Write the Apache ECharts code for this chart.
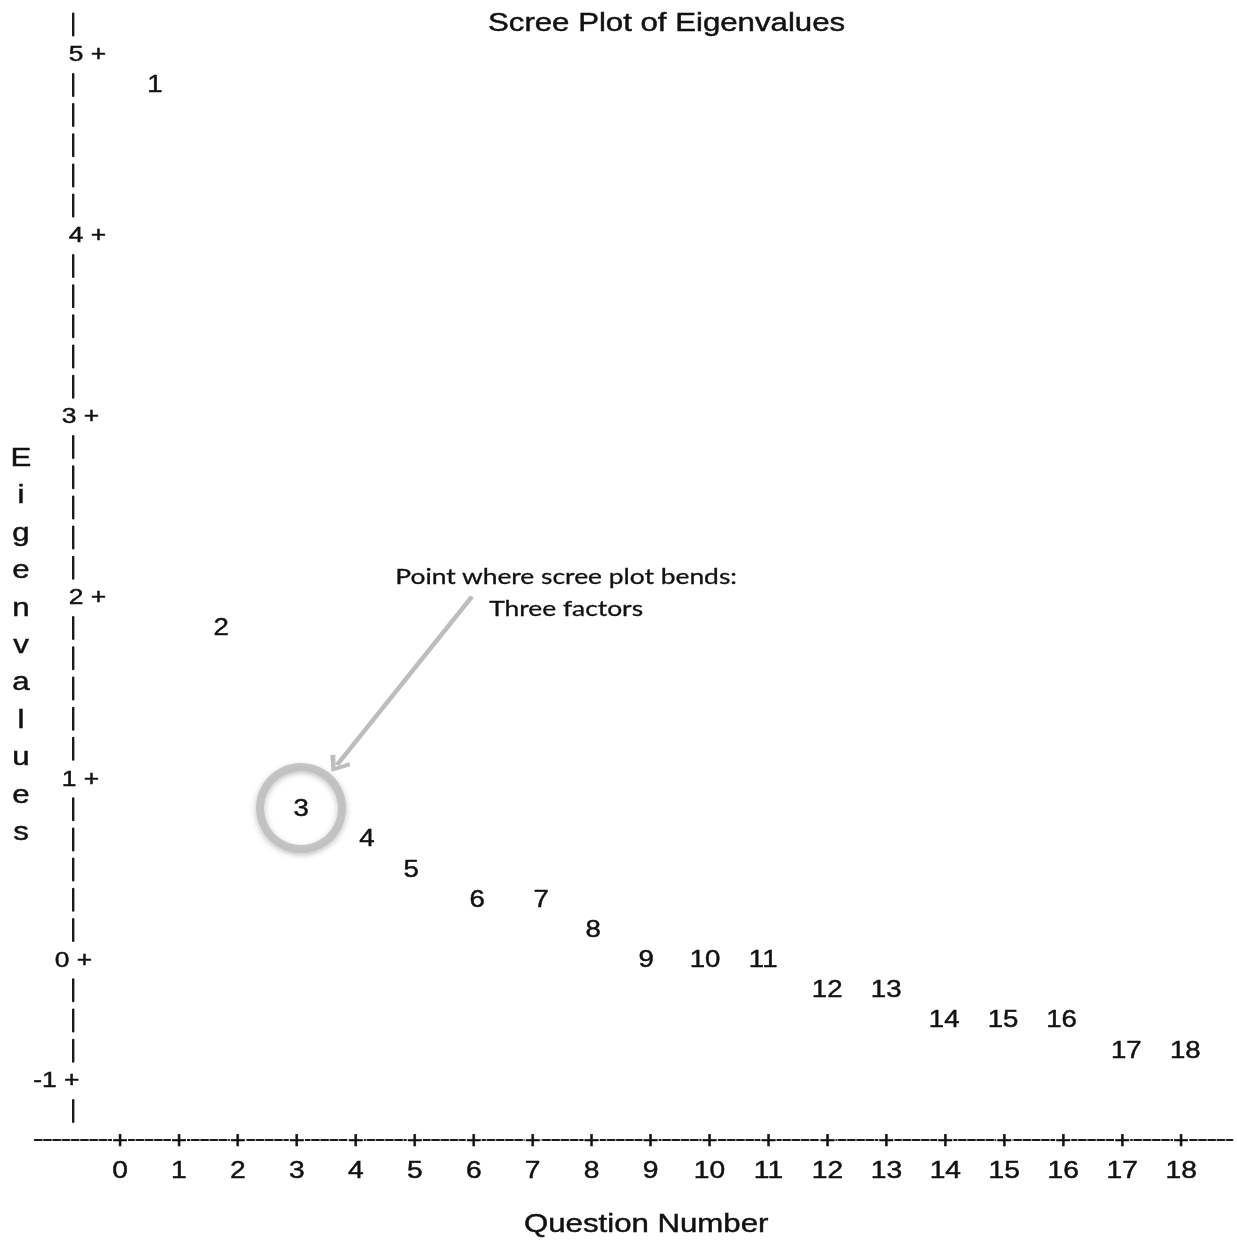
<!DOCTYPE html>
<html><head><meta charset="utf-8">
<script src="https://cdn.jsdelivr.net/npm/echarts@6/dist/echarts.min.js"></script>
<style>
html,body{margin:0;padding:0;background:#fff;overflow:hidden}
#wrap{width:1237px;height:1242px;overflow:hidden;background:#fff}
#c{width:1030.83px;height:1242px;transform:scaleX(1.2);transform-origin:0 0}
</style>
</head><body><div id="wrap"><div id="c"></div></div>
<script>
// ---- data ----
const questionLabels = ['1','2','3','4','5','6','7','8','9','10','11','12','13','14','15','16','17','18'];
const questionX = [0.594, 1.714, 3.071, 4.19, 4.937, 6.057, 7.143, 8.025, 8.924, 9.925, 10.91, 11.995, 12.996, 13.98, 14.98, 15.97, 17.07, 18.07];
const eigenvalues = [4.833, 1.833, 0.833, 0.667, 0.5, 0.333, 0.333, 0.167, 0, 0, 0, -0.167, -0.167, -0.333, -0.333, -0.333, -0.5, -0.5];
const xTickValues = [0,1,2,3,4,5,6,7,8,9,10,11,12,13,14,15,16,17,18];
const yTickValues = [-0.6667, 0, 1, 2, 3, 4, 5];
const yTickLabels = ['-1', '0', '1', '2', '3', '4', '5'];
const bendIndex = 2;
const arrowFrom = [5.97, 2.0];
const arrowTo = [3.68, 1.071];
const notePos = [7.567, 2.032];
const noteText = 'Point where scree plot bends:\nThree factors';
const titleText = 'Scree Plot of Eigenvalues';
const xName = 'Question Number';
const yName = 'Eigenvalues';

// ---- styling ----
const SX = 1.2;
const FONT = '"Liberation Sans", Arial, Helvetica, sans-serif';
const INK = '#111';
const BW = 0.45;
const yLabelPad = [0, 17.8, 23.7, 29.5, 23.7, 29.5, 29.5];
const txt = (size, extra) => Object.assign({ fontSize: size, fontFamily: FONT, color: INK, textBorderColor: INK, textBorderWidth: BW }, extra || {});

const yRich = { p: txt(22, { lineHeight: 22, backgroundColor: '#fff', padding: [4, 0, 4, 0] }) };
yLabelPad.forEach((pad, i) => {
  yRich['s' + i] = txt(22, { lineHeight: 22, backgroundColor: '#fff', padding: [4, 0, 4, pad] });
});

const chart = echarts.init(document.getElementById('c'), null, { renderer: 'svg' });
chart.setOption({
  animation: false,
  backgroundColor: '#fff',
  title: {
    text: titleText, left: 482 / SX, top: 4,
    textStyle: txt(26, { fontWeight: 'normal' })
  },
  grid: { left: 35 / SX, right: (1237 - 1232) / SX, top: 13.5, bottom: 120, containLabel: false },
  xAxis: {
    type: 'value', min: -1.442, max: 18.866, offset: 18,
    axisLine: { onZero: false, lineStyle: { color: '#1a1a1a', width: 2.2, type: [5.4, 2.3] } },
    axisTick: { show: false }, splitLine: { show: false },
    axisLabel: {
      customValues: xTickValues, margin: -11,
      formatter: v => '{p|+}\n{n|' + v + '}',
      rich: {
        p: txt(23, { lineHeight: 22, backgroundColor: '#fff' }),
        n: txt(23.5, { lineHeight: 38 })
      }
    },
    name: xName, nameLocation: 'middle', nameGap: 70,
    nameTextStyle: txt(26, { padding: [0, 0, 0, 21] })
  },
  yAxis: {
    type: 'value', min: -0.9, max: 5.22, offset: -(73 - 35) / SX,
    axisLine: { onZero: false, lineStyle: { color: '#1a1a1a', width: 2, type: [22, 8.18] } },
    axisTick: { show: false }, splitLine: { show: false },
    axisLabel: {
      inside: true, margin: -33.1, customValues: yTickValues,
      formatter: v => {
        let k = 0, best = 1e9;
        yTickValues.forEach((t, i) => { const d = Math.abs(t - v); if (d < best) { best = d; k = i; } });
        return '{s' + k + '|' + yTickLabels[k] + '}{p| +}';
      },
      rich: yRich
    }
  },
  graphic: [{
    type: 'text', x: 21 / SX, y: 644, silent: true,
    style: {
      text: yName.split('').join('\n'), align: 'center', verticalAlign: 'middle',
      fontSize: 26, fontFamily: FONT, lineHeight: 37.4, fill: INK, stroke: INK, lineWidth: BW
    }
  }],
  series: [
    {
      type: 'scatter', z: 5, silent: true,
      symbolSize: 1, itemStyle: { color: 'rgba(0,0,0,0)' },
      data: questionX.map((x, i) => [x, eigenvalues[i]]),
      label: Object.assign({
        show: true, position: 'inside', opacity: 1, formatter: p => questionLabels[p.dataIndex]
      }, txt(23))
    },
    {
      type: 'scatter', z: 3, silent: true,
      symbolSize: [82 / SX, 82],
      itemStyle: { color: 'rgba(0,0,0,0)', borderColor: '#bababa', borderWidth: 7.5,
        shadowBlur: 5, shadowColor: 'rgba(0,0,0,0.3)', shadowOffsetY: 2 },
      data: [[questionX[bendIndex], eigenvalues[bendIndex]]],
      markLine: {
        silent: true, animation: false,
        symbol: ['none', 'path://M10,0 L20,11 L17,13.5 L10,5 L3,13.5 L0,11 Z'],
        symbolSize: [20, 16],
        lineStyle: { color: '#bdbdbd', width: 4, type: 'solid' },
        label: { show: false },
        data: [[{ coord: arrowFrom }, { coord: arrowTo }]]
      },
      markPoint: {
        silent: true, symbol: 'circle', symbolSize: 1,
        itemStyle: { color: 'rgba(0,0,0,0)' },
        label: { show: true, position: 'inside', formatter: noteText,
          fontSize: 22, fontFamily: 'Lato, "Open Sans", sans-serif', color: '#111',
          textBorderColor: '#111', textBorderWidth: 0.3, lineHeight: 32, align: 'center' },
        data: [{ coord: notePos }]
      }
    }
  ]
});
</script>
</body></html>
